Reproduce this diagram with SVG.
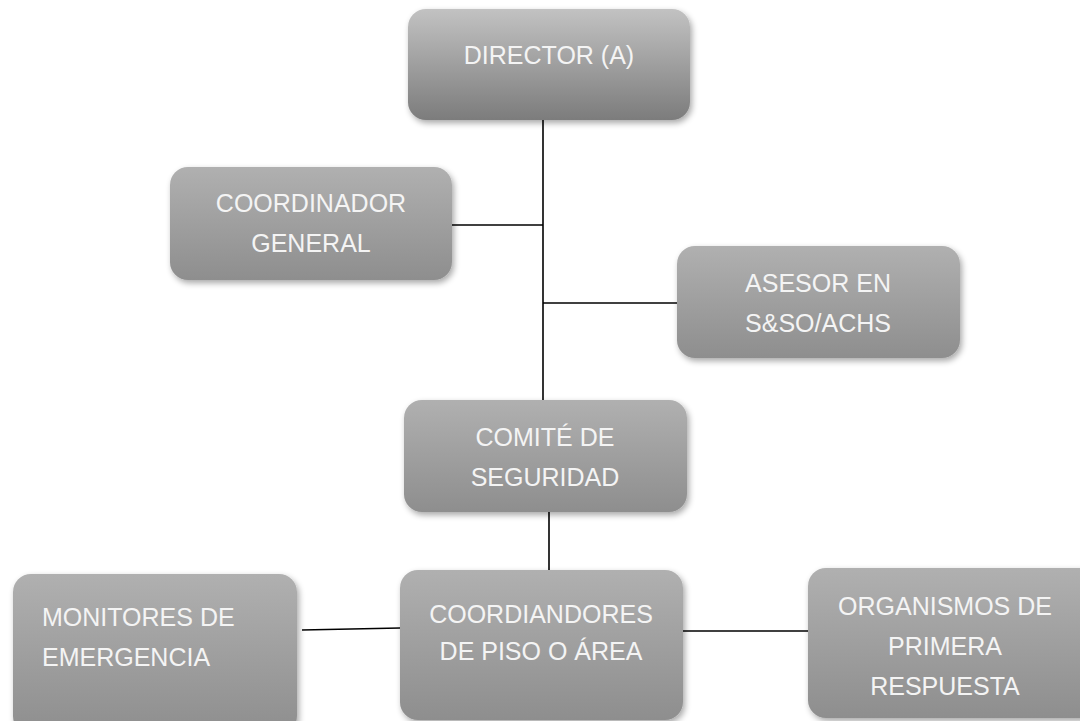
<svg xmlns="http://www.w3.org/2000/svg" width="1080" height="721" viewBox="0 0 1080 721">
<defs>
<linearGradient id="g1" x1="0" y1="0" x2="0" y2="1">
<stop offset="0" stop-color="#c2c2c2"/><stop offset="1" stop-color="#7c7c7c"/>
</linearGradient>
<linearGradient id="g2" x1="0" y1="0" x2="0" y2="1">
<stop offset="0" stop-color="#b0b0b0"/><stop offset="1" stop-color="#8e8e8e"/>
</linearGradient>
<filter id="sh" x="-10%" y="-10%" width="125%" height="130%">
<feGaussianBlur in="SourceAlpha" stdDeviation="3"/>
<feOffset dx="2" dy="3" result="b"/>
<feComponentTransfer><feFuncA type="linear" slope="0.35"/></feComponentTransfer>
<feMerge><feMergeNode/><feMergeNode in="SourceGraphic"/></feMerge>
</filter>
</defs>
<style>
.box{fill:url(#g2);filter:url(#sh)}
.t{font-family:"Liberation Sans",Arial,sans-serif;font-size:25px;fill:#f4f4f4;text-anchor:middle}
.l{text-anchor:start}
.c{stroke:#000;stroke-width:1.6;fill:none}
</style>
<rect width="1080" height="721" fill="#fff"/>
<g id="connectors">
<line class="c" x1="543" y1="120" x2="543" y2="400"/>
<line class="c" x1="452" y1="225" x2="543" y2="225"/>
<line class="c" x1="543" y1="303" x2="677" y2="303"/>
<line class="c" x1="549" y1="512" x2="549" y2="570"/>
<line class="c" x1="302" y1="630" x2="400" y2="628"/>
<line class="c" x1="683" y1="631" x2="808" y2="631"/>
</g>
<g id="director">
<rect class="box" x="408" y="9" width="282" height="111" rx="18" style="fill:url(#g1)"/>
<text class="t" x="549" y="64">DIRECTOR (A)</text>
</g>
<g id="coordinador-general">
<rect class="box" x="170" y="167" width="282" height="113" rx="18"/>
<text class="t" x="311" y="212">COORDINADOR</text>
<text class="t" x="311" y="252">GENERAL</text>
</g>
<g id="asesor">
<rect class="box" x="677" y="246" width="283" height="112" rx="18"/>
<text class="t" x="818" y="292">ASESOR EN</text>
<text class="t" x="818" y="332">S&amp;SO/ACHS</text>
</g>
<g id="comite">
<rect class="box" x="404" y="400" width="283" height="112" rx="18"/>
<text class="t" x="545" y="446">COMITÉ DE</text>
<text class="t" x="545" y="486">SEGURIDAD</text>
</g>
<g id="coordiandores">
<rect class="box" x="400" y="570" width="283" height="150" rx="18"/>
<text class="t" x="541" y="623">COORDIANDORES</text>
<text class="t" x="541" y="660">DE PISO O ÁREA</text>
</g>
<g id="monitores">
<rect class="box" x="13" y="574" width="284" height="160" rx="18"/>
<text class="t l" x="42" y="626">MONITORES DE</text>
<text class="t l" x="42" y="666">EMERGENCIA</text>
</g>
<g id="organismos">
<rect class="box" x="808" y="568" width="290" height="150" rx="18"/>
<text class="t" x="945" y="615">ORGANISMOS DE</text>
<text class="t" x="945" y="655">PRIMERA</text>
<text class="t" x="945" y="695">RESPUESTA</text>
</g>
</svg>
